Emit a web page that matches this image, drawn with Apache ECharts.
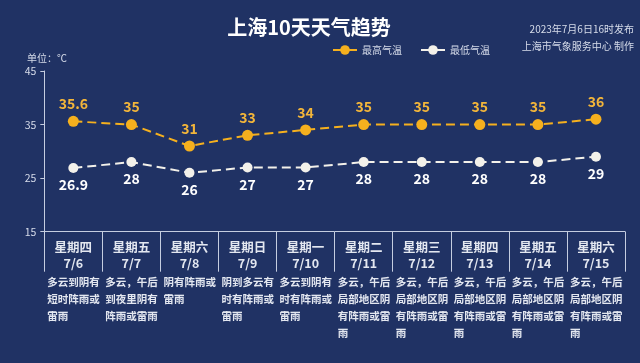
<!DOCTYPE html>
<html><head><meta charset="utf-8">
<script src="https://cdn.jsdelivr.net/npm/echarts@6/dist/echarts.min.js"></script>
<style>html,body{margin:0;padding:0;background:#203264;overflow:hidden;}#c{width:640px;height:363px;}</style>
</head><body><div id="c"></div>
<script>
const weekdays = ['星期四','星期五','星期六','星期日','星期一','星期二','星期三','星期四','星期五','星期六'];
const dates = ['7/6','7/7','7/8','7/9','7/10','7/11','7/12','7/13','7/14','7/15'];
const highTemps = [35.6, 35, 31, 33, 34, 35, 35, 35, 35, 36];
const lowTemps = [26.9, 28, 26, 27, 27, 28, 28, 28, 28, 29];
const descriptions = [
  '多云到阴有短时阵雨或雷雨',
  '多云，午后到夜里阴有阵雨或雷雨',
  '阴有阵雨或雷雨',
  '阴到多云有时有阵雨或雷雨',
  '多云到阴有时有阵雨或雷雨',
  '多云，午后局部地区阴有阵雨或雷雨',
  '多云，午后局部地区阴有阵雨或雷雨',
  '多云，午后局部地区阴有阵雨或雷雨',
  '多云，午后局部地区阴有阵雨或雷雨',
  '多云，午后局部地区阴有阵雨或雷雨'
];
const yTicks = {min: 15, max: 45, interval: 10};

const font = '"Noto Sans CJK SC", "Noto Sans", sans-serif';
const axisColor = '#c5cde0';
const textColor = '#e3e7f0';
const orange = '#f5b01e';
const orangeLabel = '#f2b53a';
const white = '#f3f1ea';

const chart = echarts.init(document.getElementById('c'), null, {renderer: 'canvas'});
chart.setOption({
  backgroundColor: '#203264',
  textStyle: {fontFamily: font},
  title: [
    {text: '上海10天天气趋势', left: 304, top: 12, textAlign: 'center',
     textStyle: {color: '#ffffff', fontSize: 20, fontWeight: 'bold', fontFamily: font}},
    {text: '2023年7月6日16时发布\n上海市气象服务中心 制作', left: 629, top: 16, textAlign: 'right',
     textStyle: {color: '#d6dcea', fontSize: 10, lineHeight: 17, fontWeight: 'normal', fontFamily: font}},
    {text: '单位：℃', left: 22, top: 48,
     textStyle: {color: '#d6dcea', fontSize: 10, fontWeight: 'normal', fontFamily: font}}
  ],
  legend: {
    left: 327, top: 40, itemWidth: 24, itemHeight: 12, itemGap: 18,
    textStyle: {color: '#d6dcea', fontSize: 10, fontFamily: font},
    lineStyle: {type: 'solid', width: 2},
    data: ['最高气温', '最低气温']
  },
  grid: {left: 44.3, right: 15, top: 71, bottom: 131.3, containLabel: false, outerBoundsMode: 'none'},
  xAxis: [
    {
      type: 'category', data: weekdays.map((d, i) => d + '\n' + dates[i]),
      boundaryGap: true, position: 'bottom',
      axisLine: {lineStyle: {color: axisColor, width: 1}},
      axisTick: {show: true, length: 40, interval: 0, alignWithLabel: false, lineStyle: {color: axisColor, width: 1}},
      axisLabel: {interval: 0, color: textColor, fontSize: 12.5, fontWeight: 'bold', lineHeight: 16.5, margin: 7, fontFamily: font}
    },
    {
      type: 'category', data: descriptions.concat(['']),
      boundaryGap: false, position: 'bottom',
      axisLine: {show: false}, axisTick: {show: false},
      axisLabel: {interval: 0, align: 'left', width: 57, overflow: 'break', padding: [0, 0, 0, 3],
        color: textColor, fontSize: 10.5, fontWeight: 'bold', lineHeight: 17, margin: 42, fontFamily: font,
        showMinLabel: true, showMaxLabel: true, hideOverlap: false}
    }
  ],
  yAxis: {
    type: 'value', min: yTicks.min, max: yTicks.max, interval: yTicks.interval,
    splitLine: {show: false},
    axisLine: {show: true, lineStyle: {color: axisColor, width: 1}},
    axisTick: {show: true, length: 4, lineStyle: {color: axisColor}},
    axisLabel: {color: '#d6dcea', fontSize: 10.5, margin: 8, fontFamily: font}
  },
  series: [
    {
      name: '最高气温', type: 'line', xAxisIndex: 0, data: highTemps,
      symbol: 'circle', symbolSize: 11,
      itemStyle: {color: orange},
      lineStyle: {color: orange, width: 2, type: [9, 5]},
      label: {show: true, position: 'top', distance: 5, color: orangeLabel, fontSize: 14, fontWeight: 'bold', fontFamily: font},
      z: 3
    },
    {
      name: '最低气温', type: 'line', xAxisIndex: 0, data: lowTemps,
      symbol: 'circle', symbolSize: 10,
      itemStyle: {color: white},
      lineStyle: {color: white, width: 2, type: [9, 5]},
      label: {show: true, position: 'bottom', distance: 5, color: '#ffffff', fontSize: 14, fontWeight: 'bold', fontFamily: font},
      z: 3
    }
  ]
});
</script></body></html>
